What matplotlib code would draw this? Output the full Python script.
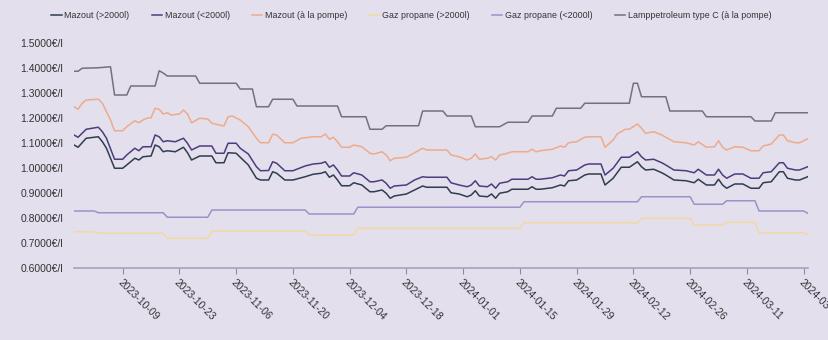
import pandas as pd
import numpy as np
import matplotlib
matplotlib.use("Agg")
import matplotlib.pyplot as plt
import matplotlib.dates as mdates
from matplotlib.ticker import FuncFormatter

plt.rcParams["font.family"] = ["Liberation Sans", "DejaVu Sans"]

# Mazout (>2000l) and (<2000l) share the same dates
mazout_dates = [
    "2023-09-27", "2023-09-28", "2023-09-30", "2023-10-03", "2023-10-04", "2023-10-05",
    "2023-10-07", "2023-10-09", "2023-10-10", "2023-10-12", "2023-10-13", "2023-10-14",
    "2023-10-16", "2023-10-17", "2023-10-18", "2023-10-19", "2023-10-20", "2023-10-22",
    "2023-10-24", "2023-10-25", "2023-10-26", "2023-10-28", "2023-10-31", "2023-11-01",
    "2023-11-03", "2023-11-04", "2023-11-06", "2023-11-07", "2023-11-09", "2023-11-11",
    "2023-11-12", "2023-11-14", "2023-11-15", "2023-11-16", "2023-11-18", "2023-11-20",
    "2023-11-23", "2023-11-25", "2023-11-27", "2023-11-28", "2023-11-29", "2023-11-30",
    "2023-12-01", "2023-12-02", "2023-12-04", "2023-12-05", "2023-12-07", "2023-12-09",
    "2023-12-10", "2023-12-12", "2023-12-13", "2023-12-14", "2023-12-15", "2023-12-18",
    "2023-12-20", "2023-12-22", "2023-12-23", "2023-12-28", "2023-12-29", "2023-12-31",
    "2024-01-02", "2024-01-03", "2024-01-04", "2024-01-05", "2024-01-07", "2024-01-08",
    "2024-01-09", "2024-01-10", "2024-01-12", "2024-01-13", "2024-01-16", "2024-01-17",
    "2024-01-18", "2024-01-19", "2024-01-20", "2024-01-23", "2024-01-25", "2024-01-26",
    "2024-01-27", "2024-01-29", "2024-01-31", "2024-02-01", "2024-02-04", "2024-02-05",
    "2024-02-07", "2024-02-08", "2024-02-09", "2024-02-11", "2024-02-13", "2024-02-14",
    "2024-02-15", "2024-02-17", "2024-02-19", "2024-02-20", "2024-02-22", "2024-02-25",
    "2024-02-27", "2024-02-28", "2024-03-01", "2024-03-03", "2024-03-04", "2024-03-05",
    "2024-03-06", "2024-03-08", "2024-03-10", "2024-03-12", "2024-03-14", "2024-03-15",
    "2024-03-17", "2024-03-19", "2024-03-20", "2024-03-21", "2024-03-23", "2024-03-24",
    "2024-03-26",
]
mazout_small = [
    1.132, 1.123, 1.155, 1.163, 1.145, 1.119,
    1.035, 1.035, 1.052, 1.079, 1.069, 1.085,
    1.085, 1.132, 1.125, 1.105, 1.109, 1.105,
    1.119, 1.099, 1.072, 1.088, 1.088, 1.059,
    1.059, 1.099, 1.099, 1.079, 1.056, 1.005,
    0.989, 0.990, 1.025, 1.019, 0.989, 0.989,
    1.008, 1.016, 1.019, 1.025, 1.003, 1.012,
    0.992, 0.968, 0.968, 0.981, 0.972, 0.945,
    0.945, 0.952, 0.939, 0.919, 0.928, 0.932,
    0.952, 0.965, 0.963, 0.963, 0.941, 0.932,
    0.925, 0.932, 0.949, 0.928, 0.925, 0.936,
    0.919, 0.939, 0.945, 0.955, 0.955, 0.955,
    0.965, 0.955, 0.955, 0.961, 0.972, 0.968,
    0.989, 0.992, 1.012, 1.016, 1.016, 0.972,
    0.999, 1.021, 1.043, 1.043, 1.065, 1.045,
    1.032, 1.035, 1.021, 1.012, 0.992, 0.989,
    0.981, 0.995, 0.972, 0.972, 0.995, 0.972,
    0.959, 0.976, 0.976, 0.959, 0.959, 0.981,
    0.985, 1.021, 1.021, 0.999, 0.992, 0.992,
    1.005,
]
mazout_large = [
    1.092, 1.083, 1.119, 1.125, 1.105, 1.079,
    0.999, 0.999, 1.012, 1.039, 1.032, 1.045,
    1.048, 1.092, 1.085, 1.065, 1.069, 1.065,
    1.083, 1.061, 1.032, 1.048, 1.048, 1.021,
    1.021, 1.061, 1.059, 1.043, 1.012, 0.959,
    0.952, 0.952, 0.985, 0.979, 0.952, 0.952,
    0.965, 0.975, 0.979, 0.985, 0.963, 0.972,
    0.952, 0.929, 0.929, 0.941, 0.932, 0.905,
    0.905, 0.912, 0.899, 0.879, 0.888, 0.896,
    0.912, 0.928, 0.923, 0.923, 0.901, 0.896,
    0.885, 0.892, 0.909, 0.888, 0.885, 0.896,
    0.879, 0.899, 0.905, 0.915, 0.915, 0.915,
    0.925, 0.915, 0.915, 0.921, 0.932, 0.928,
    0.949, 0.952, 0.972, 0.976, 0.976, 0.932,
    0.959, 0.981, 1.003, 1.003, 1.025, 1.005,
    0.992, 0.995, 0.981, 0.972, 0.952, 0.949,
    0.941, 0.955, 0.932, 0.932, 0.955, 0.932,
    0.919, 0.936, 0.936, 0.919, 0.919, 0.941,
    0.945, 0.985, 0.985, 0.959, 0.952, 0.952,
    0.965,
]

pompe_dates = [
    "2023-09-27", "2023-09-28", "2023-09-29", "2023-09-30", "2023-10-03", "2023-10-04",
    "2023-10-05", "2023-10-06", "2023-10-07", "2023-10-09", "2023-10-10", "2023-10-12",
    "2023-10-13", "2023-10-14", "2023-10-15", "2023-10-16", "2023-10-17", "2023-10-18",
    "2023-10-19", "2023-10-20", "2023-10-21", "2023-10-23", "2023-10-24", "2023-10-25",
    "2023-10-26", "2023-10-28", "2023-10-30", "2023-10-31", "2023-11-03", "2023-11-04",
    "2023-11-05", "2023-11-07", "2023-11-09", "2023-11-11", "2023-11-12", "2023-11-14",
    "2023-11-15", "2023-11-16", "2023-11-18", "2023-11-20", "2023-11-22", "2023-11-25",
    "2023-11-27", "2023-11-28", "2023-11-29", "2023-11-30", "2023-12-01", "2023-12-02",
    "2023-12-04", "2023-12-05", "2023-12-07", "2023-12-09", "2023-12-10", "2023-12-12",
    "2023-12-13", "2023-12-14", "2023-12-15", "2023-12-18", "2023-12-20", "2023-12-22",
    "2023-12-23", "2023-12-28", "2023-12-29", "2023-12-31", "2024-01-02", "2024-01-03",
    "2024-01-04", "2024-01-05", "2024-01-07", "2024-01-08", "2024-01-09", "2024-01-10",
    "2024-01-12", "2024-01-13", "2024-01-16", "2024-01-17", "2024-01-18", "2024-01-19",
    "2024-01-20", "2024-01-23", "2024-01-25", "2024-01-26", "2024-01-27", "2024-01-29",
    "2024-01-31", "2024-02-01", "2024-02-04", "2024-02-05", "2024-02-07", "2024-02-08",
    "2024-02-10", "2024-02-11", "2024-02-13", "2024-02-14", "2024-02-15", "2024-02-17",
    "2024-02-19", "2024-02-20", "2024-02-22", "2024-02-25", "2024-02-27", "2024-02-28",
    "2024-03-01", "2024-03-03", "2024-03-04", "2024-03-05", "2024-03-06", "2024-03-08",
    "2024-03-10", "2024-03-12", "2024-03-14", "2024-03-15", "2024-03-17", "2024-03-19",
    "2024-03-20", "2024-03-21", "2024-03-23", "2024-03-24", "2024-03-26",
]
mazout_pompe = [
    1.245, 1.235, 1.259, 1.272, 1.275, 1.259,
    1.225, 1.192, 1.149, 1.149, 1.165, 1.189,
    1.181, 1.192, 1.199, 1.201, 1.239, 1.235,
    1.216, 1.221, 1.212, 1.216, 1.232, 1.216,
    1.181, 1.199, 1.196, 1.179, 1.168, 1.205,
    1.208, 1.192, 1.165, 1.119, 1.101, 1.101,
    1.135, 1.132, 1.101, 1.101, 1.119, 1.125,
    1.125, 1.136, 1.115, 1.123, 1.105, 1.083,
    1.083, 1.092, 1.085, 1.059, 1.056, 1.065,
    1.052, 1.029, 1.039, 1.043, 1.061, 1.079,
    1.072, 1.072, 1.052, 1.045, 1.032, 1.039,
    1.056, 1.035, 1.039, 1.045, 1.032, 1.052,
    1.059, 1.065, 1.065, 1.065, 1.075, 1.065,
    1.069, 1.075, 1.088, 1.083, 1.101, 1.105,
    1.123, 1.125, 1.125, 1.083, 1.112, 1.136,
    1.155, 1.155, 1.176, 1.159, 1.139, 1.145,
    1.132, 1.123, 1.105, 1.101, 1.092, 1.105,
    1.083, 1.085, 1.109, 1.083, 1.072, 1.085,
    1.083, 1.069, 1.069, 1.088, 1.096, 1.132,
    1.132, 1.109, 1.101, 1.101, 1.117,
]

propane_dates = [
    "2023-09-27", "2023-10-02", "2023-10-03", "2023-10-19", "2023-10-20", "2023-10-30",
    "2023-10-31", "2023-11-23", "2023-11-24", "2023-12-05", "2023-12-06", "2024-01-15",
    "2024-01-16", "2024-02-13", "2024-02-14", "2024-02-26", "2024-02-27", "2024-03-05",
    "2024-03-06", "2024-03-13", "2024-03-14", "2024-03-25", "2024-03-26",
]
propane_large = [
    0.745, 0.745, 0.739, 0.739, 0.719, 0.719,
    0.748, 0.748, 0.732, 0.732, 0.759, 0.759,
    0.781, 0.781, 0.799, 0.799, 0.772, 0.772,
    0.783, 0.783, 0.741, 0.741, 0.735,
]
propane_small = [
    0.828, 0.828, 0.821, 0.821, 0.803, 0.803,
    0.832, 0.832, 0.816, 0.816, 0.843, 0.843,
    0.865, 0.865, 0.885, 0.885, 0.855, 0.855,
    0.869, 0.869, 0.828, 0.828, 0.819,
]

lamp_dates = [
    "2023-09-27", "2023-09-28", "2023-09-29", "2023-10-03", "2023-10-06", "2023-10-07",
    "2023-10-10", "2023-10-11", "2023-10-17", "2023-10-18", "2023-10-19", "2023-10-20",
    "2023-10-27", "2023-10-28", "2023-11-06", "2023-11-07", "2023-11-10", "2023-11-11",
    "2023-11-14", "2023-11-15", "2023-11-20", "2023-11-21", "2023-12-01", "2023-12-02",
    "2023-12-08", "2023-12-09", "2023-12-12", "2023-12-13", "2023-12-21", "2023-12-22",
    "2023-12-27", "2023-12-28", "2024-01-03", "2024-01-04", "2024-01-10", "2024-01-12",
    "2024-01-17", "2024-01-18", "2024-01-23", "2024-01-24", "2024-01-30", "2024-01-31",
    "2024-02-11", "2024-02-12", "2024-02-13", "2024-02-14", "2024-02-20", "2024-02-21",
    "2024-02-29", "2024-03-01", "2024-03-12", "2024-03-13", "2024-03-17", "2024-03-18",
    "2024-03-26",
]
lamppetroleum = [
    1.387, 1.387, 1.399, 1.401, 1.405, 1.292,
    1.292, 1.328, 1.328, 1.389, 1.380, 1.368,
    1.368, 1.339, 1.339, 1.316, 1.316, 1.245,
    1.245, 1.275, 1.275, 1.248, 1.248, 1.205,
    1.205, 1.155, 1.155, 1.169, 1.169, 1.228,
    1.228, 1.208, 1.208, 1.165, 1.165, 1.183,
    1.183, 1.208, 1.208, 1.239, 1.239, 1.259,
    1.259, 1.339, 1.339, 1.285, 1.285, 1.228,
    1.228, 1.205, 1.205, 1.188, 1.188, 1.221,
    1.221,
]

bg = "#e3dfed"
series = [
    ("Mazout (>2000l)", mazout_dates, mazout_large, "#2f3d50"),
    ("Mazout (<2000l)", mazout_dates, mazout_small, "#4c3d7c"),
    ("Mazout (à la pompe)", pompe_dates, mazout_pompe, "#eeab8c"),
    ("Gaz propane (>2000l)", propane_dates, propane_large, "#f2d9a2"),
    ("Gaz propane (<2000l)", propane_dates, propane_small, "#9c92c9"),
    ("Lamppetroleum type C (à la pompe)", lamp_dates, lamppetroleum, "#74717c"),
]

fig = plt.figure(figsize=(8.29, 3.4), dpi=100, facecolor=bg)
ax = fig.add_axes([0.0893, 0.2118, 0.8850, 0.6617])
ax.set_facecolor(bg)

for label, dates, values, color in series:
    ax.plot(pd.to_datetime(dates), values, color=color, lw=1.1, label=label)

ax.set_xlim(pd.Timestamp("2023-09-27"), pd.Timestamp("2024-03-26"))
ax.set_ylim(0.6, 1.5)
ax.set_yticks(np.arange(0.6, 1.51, 0.1))
ax.yaxis.set_major_formatter(FuncFormatter(lambda v, p: f"{v:.4f}€/l"))
ax.tick_params(axis="y", length=0, pad=8, labelsize=7.5, labelcolor="#333333")

ax.set_xticks(pd.date_range("2023-10-09", "2024-03-25", freq="14D"))
ax.xaxis.set_major_formatter(mdates.DateFormatter("%Y-%m-%d"))
ax.tick_params(axis="x", length=4, width=0.8, color="#8f88a8", pad=3,
               labelsize=7.5, labelcolor="#333333")
for lbl in ax.get_xticklabels():
    lbl.set_rotation(-45)
    lbl.set_ha("left")
    lbl.set_va("top")
    lbl.set_rotation_mode("anchor")

for side in ["top", "right", "left"]:
    ax.spines[side].set_visible(False)
ax.spines["bottom"].set_color("#a69fc0")
ax.spines["bottom"].set_linewidth(1.2)

fig.legend(loc="center left", bbox_to_anchor=(0.062, 0.955), ncol=6, frameon=False,
           fontsize=6.4, labelcolor="#333333", handlelength=1.15, handletextpad=0.3,
           columnspacing=2.5, borderaxespad=0, borderpad=0)

fig.savefig("out.png", dpi=100, facecolor=bg)
